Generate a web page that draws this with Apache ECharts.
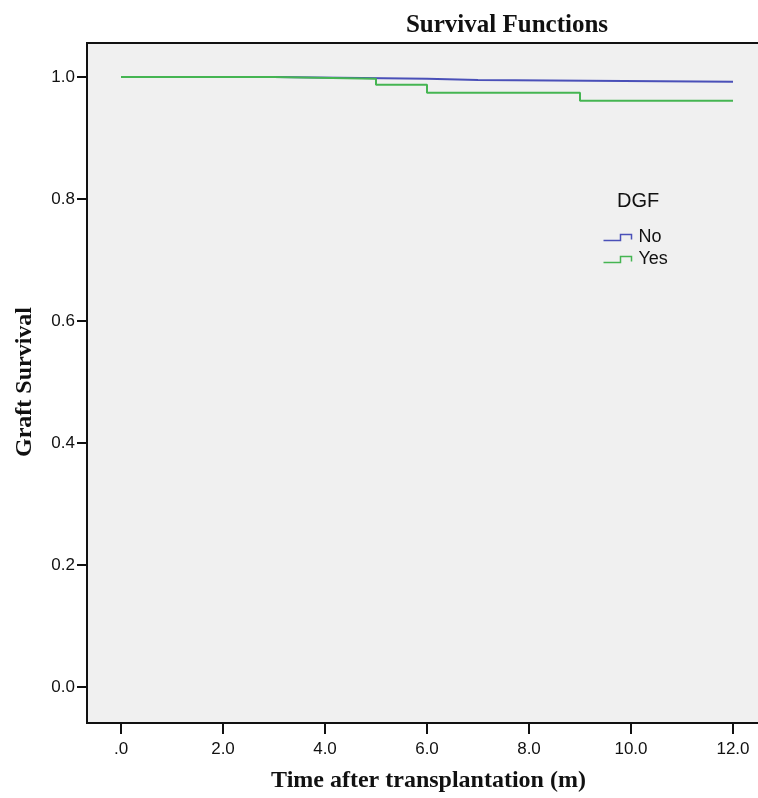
<!DOCTYPE html>
<html>
<head>
<meta charset="utf-8">
<script src="https://cdn.jsdelivr.net/npm/echarts@6/dist/echarts.min.js"></script>
<style>
  html, body { margin: 0; padding: 0; background: #fff; }
  #chart { width: 758px; height: 798px; }
</style>
</head>
<body>
<div id="chart"></div>
<script>
// survival steps: [time (m), survival]
var timeNo = [0, 3, 6, 7, 12];
var survNo = [1.0, 0.997, 0.995, 0.992, 0.992];
var timeYes = [0, 3, 5, 6, 9, 12];
var survYes = [1.0, 0.997, 0.987, 0.974, 0.961, 0.961];

var groupNames = ['No', 'Yes'];
var groupColors = ['#4a50b8', '#45b552'];

var xTicks = [0, 2, 4, 6, 8, 10, 12];
var xTickLabels = ['.0', '2.0', '4.0', '6.0', '8.0', '10.0', '12.0'];
var yTicks = [0, 0.2, 0.4, 0.6, 0.8, 1.0];
var yTickLabels = ['0.0', '0.2', '0.4', '0.6', '0.8', '1.0'];

function pairs(t, s) {
  var out = [];
  for (var i = 0; i < t.length; i++) out.push([t[i], s[i]]);
  return out;
}

function tickLabel(ticks, labels) {
  return function (v) {
    for (var i = 0; i < ticks.length; i++) {
      if (Math.abs(ticks[i] - v) < 1e-6) return labels[i];
    }
    return '';
  };
}

// SPSS keeps some padding inside the frame around the data range
var xPadLeft = 34 / 51, xPadRight = 25 / 51;
var yPad = 34 / 612;

var stepIcon = 'path://M0,6 L17,6 L17,0 L28,0 L28,5';

var chart = echarts.init(document.getElementById('chart'));
var option = {
  animation: false,
  backgroundColor: '#fff',
  title: {
    text: 'Survival Functions',
    left: 502,
    top: 8,
    textAlign: 'center',
    textStyle: {
      fontFamily: 'Liberation Serif',
      fontWeight: 'bold',
      fontSize: 25,
      color: '#111'
    }
  },
  graphic: [
    {
      type: 'rect',
      z: 0,
      shape: { x: 87, y: 43, width: 700, height: 680 },
      style: { fill: '#f0f0f0', stroke: '#111', lineWidth: 2 }
    },
    {
      type: 'text',
      z: 5,
      left: 617,
      top: 191,
      style: {
        text: 'DGF',
        fontFamily: 'Liberation Sans',
        fontSize: 20,
        fill: '#111'
      }
    }
  ],
  legend: {
    orient: 'vertical',
    left: 601,
    top: 227,
    padding: 0,
    itemWidth: 32,
    itemHeight: 6,
    itemGap: 1,
    textStyle: {
      fontFamily: 'Liberation Sans',
      fontSize: 18,
      lineHeight: 21,
      color: '#111'
    },
    data: groupNames.map(function (n, i) {
      return {
        name: n,
        icon: stepIcon,
        itemStyle: { color: 'none', borderColor: groupColors[i], borderWidth: 1.5 }
      };
    })
  },
  grid: {
    left: 87,
    right: 0,
    top: 43,
    bottom: 75
  },
  xAxis: {
    type: 'value',
    min: -xPadLeft,
    max: 12 + xPadRight,
    offset: 3,
    name: 'Time after transplantation (m)',
    nameLocation: 'middle',
    nameGap: 45,
    nameTextStyle: {
      fontFamily: 'Liberation Serif',
      fontWeight: 'bold',
      fontSize: 24,
      color: '#111',
      padding: [0, 0, 0, 12]
    },
    axisLine: { show: true, onZero: false, lineStyle: { color: 'rgba(0,0,0,0)' } },
    axisTick: {
      show: true,
      length: 10,
      customValues: xTicks,
      lineStyle: { color: '#111', width: 2 }
    },
    splitLine: { show: false },
    axisLabel: {
      margin: 17,
      customValues: xTicks,
      fontFamily: 'Liberation Sans',
      fontSize: 17,
      color: '#111',
      formatter: tickLabel(xTicks, xTickLabels)
    }
  },
  yAxis: {
    type: 'value',
    min: -yPad,
    max: 1 + yPad,
    name: 'Graft Survival',
    nameLocation: 'middle',
    nameGap: 50,
    nameTextStyle: {
      fontFamily: 'Liberation Serif',
      fontWeight: 'bold',
      fontSize: 24,
      color: '#111'
    },
    axisLine: { show: true, onZero: false, lineStyle: { color: 'rgba(0,0,0,0)' } },
    axisTick: {
      show: true,
      length: 10,
      customValues: yTicks,
      lineStyle: { color: '#111', width: 2 }
    },
    splitLine: { show: false },
    axisLabel: {
      margin: 12,
      customValues: yTicks,
      fontFamily: 'Liberation Sans',
      fontSize: 17,
      color: '#111',
      formatter: tickLabel(yTicks, yTickLabels)
    }
  },
  series: [
    {
      name: groupNames[0],
      type: 'line',
      step: 'end',
      symbol: 'none',
      z: 3,
      lineStyle: { color: groupColors[0], width: 2 },
      itemStyle: { color: groupColors[0] },
      data: pairs(timeNo, survNo)
    },
    {
      name: groupNames[1],
      type: 'line',
      step: 'end',
      symbol: 'none',
      z: 3,
      lineStyle: { color: groupColors[1], width: 2 },
      itemStyle: { color: groupColors[1] },
      data: pairs(timeYes, survYes)
    }
  ]
};
chart.setOption(option);
</script>
</body>
</html>
